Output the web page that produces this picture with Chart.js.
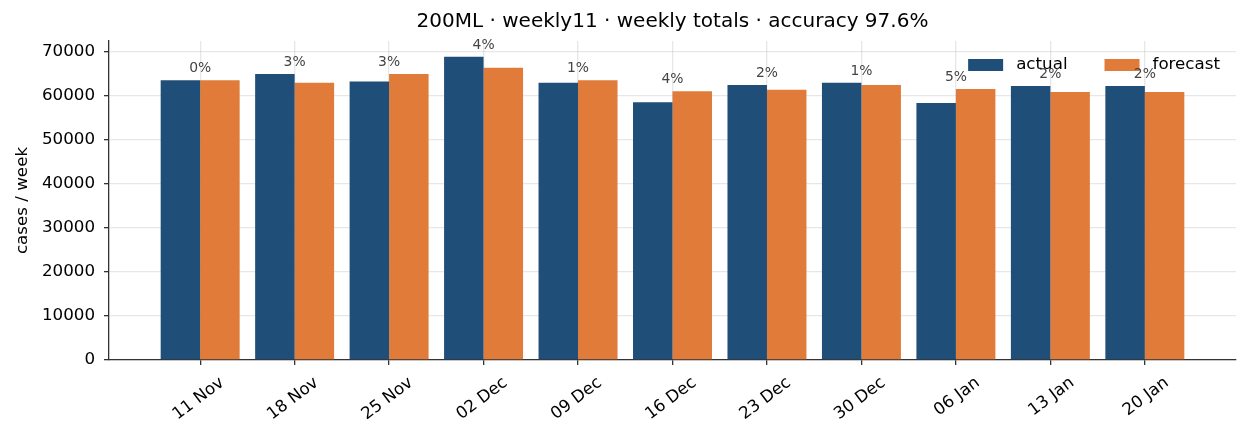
<!DOCTYPE html>
<html>
<head>
<meta charset="utf-8">
<script src="https://cdn.jsdelivr.net/npm/chart.js@4.4.1/dist/chart.umd.min.js"></script>
<style>
  html, body { margin: 0; padding: 0; background: #fff; }
  #wrap { width: 1250px; height: 438px; }
</style>
</head>
<body>
<div id="wrap"><canvas id="chart"></canvas></div>
<script>
// weekly totals
const weeks = ['11 Nov', '18 Nov', '25 Nov', '02 Dec', '09 Dec', '16 Dec', '23 Dec', '30 Dec', '06 Jan', '13 Jan', '20 Jan'];
const actual = [63600, 65000, 63300, 68900, 63000, 58600, 62500, 63000, 58400, 62300, 62300];
const forecast = [63600, 63000, 65000, 66400, 63600, 61100, 61400, 62500, 61600, 60900, 60900];
const errPct = [0, 3, 3, 4, 1, 4, 2, 1, 5, 2, 2];
const yTicks = [0, 10000, 20000, 30000, 40000, 50000, 60000, 70000];

const NAVY = '#1f4e79';
const ORANGE = '#e07b39';
const FONT = '"DejaVu Sans", sans-serif';
const GRID = 'rgba(176,176,176,0.3)';

Chart.defaults.font.family = FONT;
Chart.defaults.color = '#000';

// legend + error labels drawn on top of the plot
const overlay = {
  id: 'overlay',
  afterDraw(chart) {
    const { ctx, chartArea, scales: { x, y } } = chart;
    ctx.save();

    // legend, upper right inside the axes
    ctx.font = '16.7px ' + FONT;
    ctx.textBaseline = 'middle';
    ctx.textAlign = 'left';
    const items = [['actual', NAVY], ['forecast', ORANGE]];
    const boxW = 35, boxH = 12, gap = 13, between = 37;
    let total = 0;
    items.forEach(([t], i) => { total += boxW + gap + ctx.measureText(t).width + (i ? 0 : between); });
    let lx = chartArea.right - 16 - total;
    const cy = chartArea.top + 24;
    items.forEach(([t, c]) => {
      ctx.fillStyle = c;
      ctx.fillRect(lx, cy - boxH / 2, boxW, boxH);
      ctx.fillStyle = '#000';
      ctx.fillText(t, lx + boxW + gap, cy);
      lx += boxW + gap + ctx.measureText(t).width + between;
    });

    // error labels above each pair
    ctx.font = '13.9px ' + FONT;
    ctx.fillStyle = '#444';
    ctx.textAlign = 'center';
    ctx.textBaseline = 'alphabetic';
    weeks.forEach((w, i) => {
      const top = y.getPixelForValue(Math.max(actual[i], forecast[i]));
      ctx.fillText(errPct[i] + '%', x.getPixelForValue(i), top - 8);
    });
    ctx.restore();
  }
};

new Chart(document.getElementById('chart'), {
  type: 'bar',
  data: {
    datasets: [
      { label: 'actual', data: actual.map((v, i) => ({ x: i, y: v })), backgroundColor: NAVY },
      { label: 'forecast', data: forecast.map((v, i) => ({ x: i, y: v })), backgroundColor: ORANGE }
    ]
  },
  options: {
    responsive: true,
    maintainAspectRatio: false,
    animation: false,
    layout: { padding: { left: 0, right: 14, top: 0, bottom: 0 } },
    datasets: { bar: { categoryPercentage: 0.836, barPercentage: 1, borderWidth: 0 } },
    plugins: {
      legend: { display: false },
      tooltip: { enabled: false },
      title: {
        display: true,
        fullSize: false,
        text: '200ML · weekly11 · weekly totals · accuracy 97.6%',
        color: '#000',
        font: { size: 20, weight: 'normal' },
        padding: { top: 10, bottom: 7 }
      }
    },
    scales: {
      x: {
        type: 'linear',
        min: -0.965,
        max: 10.965,
        offset: false,
        z: 1,
        afterFit(s) { s.height = 78; },
        afterBuildTicks(s) { s.ticks = weeks.map((w, i) => ({ value: i })); },
        ticks: {
          autoSkip: false,
          minRotation: 37,
          maxRotation: 37,
          labelOffset: 22,
          padding: 8,
          color: '#000',
          font: { size: 16.7 },
          callback: v => weeks[v]
        },
        grid: { offset: false, color: GRID, lineWidth: 1.3, tickLength: 5, tickColor: '#333', tickWidth: 1.3 },
        border: { color: '#333', width: 1.3 }
      },
      y: {
        min: 0,
        max: 72500,
        z: 1,
        afterFit(s) { s.width = 109; },
        afterBuildTicks(s) { s.ticks = yTicks.map(v => ({ value: v })); },
        ticks: { color: '#000', font: { size: 16.7 }, padding: 9, callback: v => String(v) },
        grid: { color: GRID, lineWidth: 1.3, tickLength: 5, tickColor: '#333', tickWidth: 1.3 },
        border: { color: '#333', width: 1.3 },
        title: { display: true, text: 'cases / week', color: '#000', font: { size: 16.7 }, padding: { top: 13, bottom: 4 } }
      }
    }
  },
  plugins: [overlay]
});
</script>
</body>
</html>
